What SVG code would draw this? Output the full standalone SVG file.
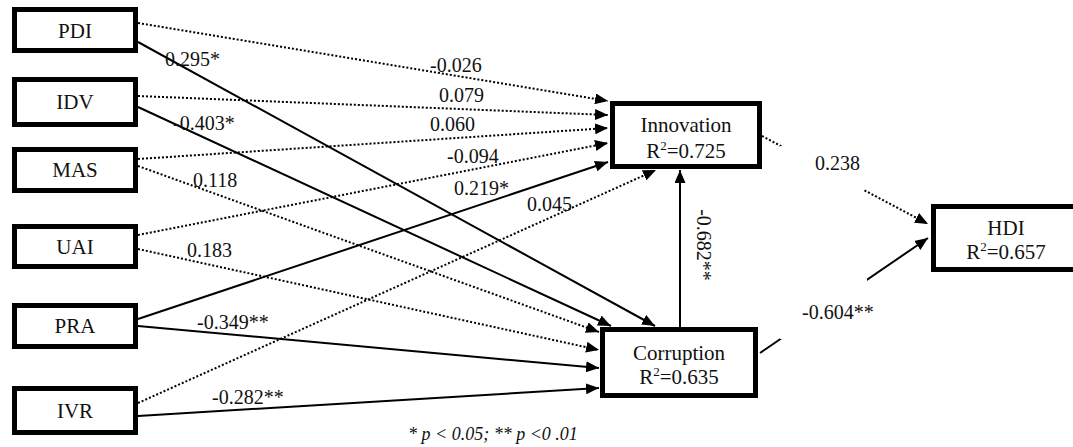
<svg xmlns="http://www.w3.org/2000/svg" width="1073" height="447" viewBox="0 0 1073 447">
  <style>
    text { font-family: 'Liberation Serif', 'DejaVu Serif', 'Times New Roman', serif; fill: #111111; }
    .box { fill: #ffffff; stroke: #000000; stroke-width: 5; }
    .lbl { font-size: 21px; text-anchor: middle; }
    .coef { font-size: 20px; }
    .sup { font-size: 13px; }
    .solid { fill: none; stroke: #000000; stroke-width: 2; marker-end: url(#arrow); }
    .dot { fill: none; stroke: #000000; stroke-width: 2; stroke-dasharray: 2 2; marker-end: url(#arrow); }
    .note { font-size: 18px; font-style: italic; }
  </style>
  <defs>
    <marker id="arrow" markerUnits="userSpaceOnUse" markerWidth="13" markerHeight="11" refX="13" refY="5.5" orient="auto">
      <path d="M0,0 L13,5.5 L0,11 z" fill="#000000"/>
    </marker>
  </defs>

  <rect width="1073" height="447" fill="#ffffff"/>

  <!-- path connectors -->
  <g id="connectors">
    <line class="dot" x1="138" y1="23" x2="608" y2="101"/>
    <line class="dot" x1="138" y1="96" x2="608" y2="115"/>
    <line class="dot" x1="138" y1="159" x2="608" y2="128"/>
    <line class="dot" x1="138" y1="235" x2="608" y2="143"/>
    <line class="solid" x1="138" y1="319" x2="608" y2="162"/>
    <line class="dot" x1="138" y1="403" x2="656" y2="170"/>
    <line class="solid" x1="138" y1="42" x2="655" y2="326"/>
    <line class="solid" x1="138" y1="107" x2="611" y2="326"/>
    <line class="dot" x1="138" y1="166" x2="599" y2="332"/>
    <line class="dot" x1="138" y1="249" x2="599" y2="350"/>
    <line class="solid" x1="138" y1="326" x2="599" y2="368"/>
    <line class="solid" x1="138" y1="416" x2="599" y2="388"/>
    <line class="solid" x1="680" y1="327" x2="680" y2="170"/>
    <line class="dot" x1="762" y1="136" x2="928" y2="224"/>
    <line class="solid" x1="760" y1="353" x2="928" y2="238"/>
  </g>

  <!-- path coefficients -->
  <g id="coefficients">
    <text class="coef" x="430" y="72">-0.026</text>
    <text class="coef" x="439" y="102">0.079</text>
    <text class="coef" x="430" y="131">0.060</text>
    <text class="coef" x="447" y="163">-0.094</text>
    <text class="coef" x="454" y="195">0.219*</text>
    <text class="coef" x="527" y="211">0.045</text>
    <text class="coef" x="165" y="66">0.295*</text>
    <text class="coef" x="173" y="130">-0.403*</text>
    <text class="coef" x="193" y="187">0.118</text>
    <text class="coef" x="187" y="257">0.183</text>
    <text class="coef" x="197" y="329">-0.349**</text>
    <text class="coef" x="212" y="404">-0.282**</text>
    <text class="coef" transform="translate(697,245) rotate(90)" text-anchor="middle">-0.682**</text>
    <rect x="780" y="146" width="84" height="47" fill="#ffffff"/>
    <text class="coef" x="815" y="170">0.238</text>
    <rect x="780" y="279" width="87" height="60" fill="#ffffff"/>
    <text class="coef" x="802" y="319">-0.604**</text>
  </g>

  <!-- exogenous constructs -->
  <g id="PDI">
    <rect class="box" x="14.5" y="9.5" width="121" height="41"/>
    <text class="lbl" x="75" y="38">PDI</text>
  </g>
  <g id="IDV">
    <rect class="box" x="14.5" y="79.5" width="121" height="45"/>
    <text class="lbl" x="75" y="109">IDV</text>
  </g>
  <g id="MAS">
    <rect class="box" x="14.5" y="149.5" width="121" height="41"/>
    <text class="lbl" x="75" y="177">MAS</text>
  </g>
  <g id="UAI">
    <rect class="box" x="14.5" y="226.5" width="121" height="40"/>
    <text class="lbl" x="75" y="254">UAI</text>
  </g>
  <g id="PRA">
    <rect class="box" x="14.5" y="305.5" width="121" height="41"/>
    <text class="lbl" x="75" y="333">PRA</text>
  </g>
  <g id="IVR">
    <rect class="box" x="14.5" y="388.5" width="121" height="44"/>
    <text class="lbl" x="75" y="418">IVR</text>
  </g>

  <!-- endogenous constructs -->
  <g id="Innovation">
    <rect class="box" x="612.5" y="103.5" width="147" height="63"/>
    <text class="lbl" x="686" y="132">Innovation</text>
    <text class="lbl" x="686" y="158">R<tspan class="sup" dy="-8">2</tspan><tspan dy="8">=0.725</tspan></text>
  </g>
  <g id="Corruption">
    <rect class="box" x="602.5" y="329.5" width="153" height="66"/>
    <text class="lbl" x="679" y="360">Corruption</text>
    <text class="lbl" x="679" y="384">R<tspan class="sup" dy="-8">2</tspan><tspan dy="8">=0.635</tspan></text>
  </g>
  <g id="HDI">
    <rect class="box" x="933.5" y="206.5" width="143" height="63"/>
    <text class="lbl" x="1006" y="235">HDI</text>
    <text class="lbl" x="1006" y="259">R<tspan class="sup" dy="-8">2</tspan><tspan dy="8">=0.657</tspan></text>
  </g>

  <text class="note" x="408" y="440">* p &lt; 0.05; ** p &lt;0 .01</text>
</svg>
